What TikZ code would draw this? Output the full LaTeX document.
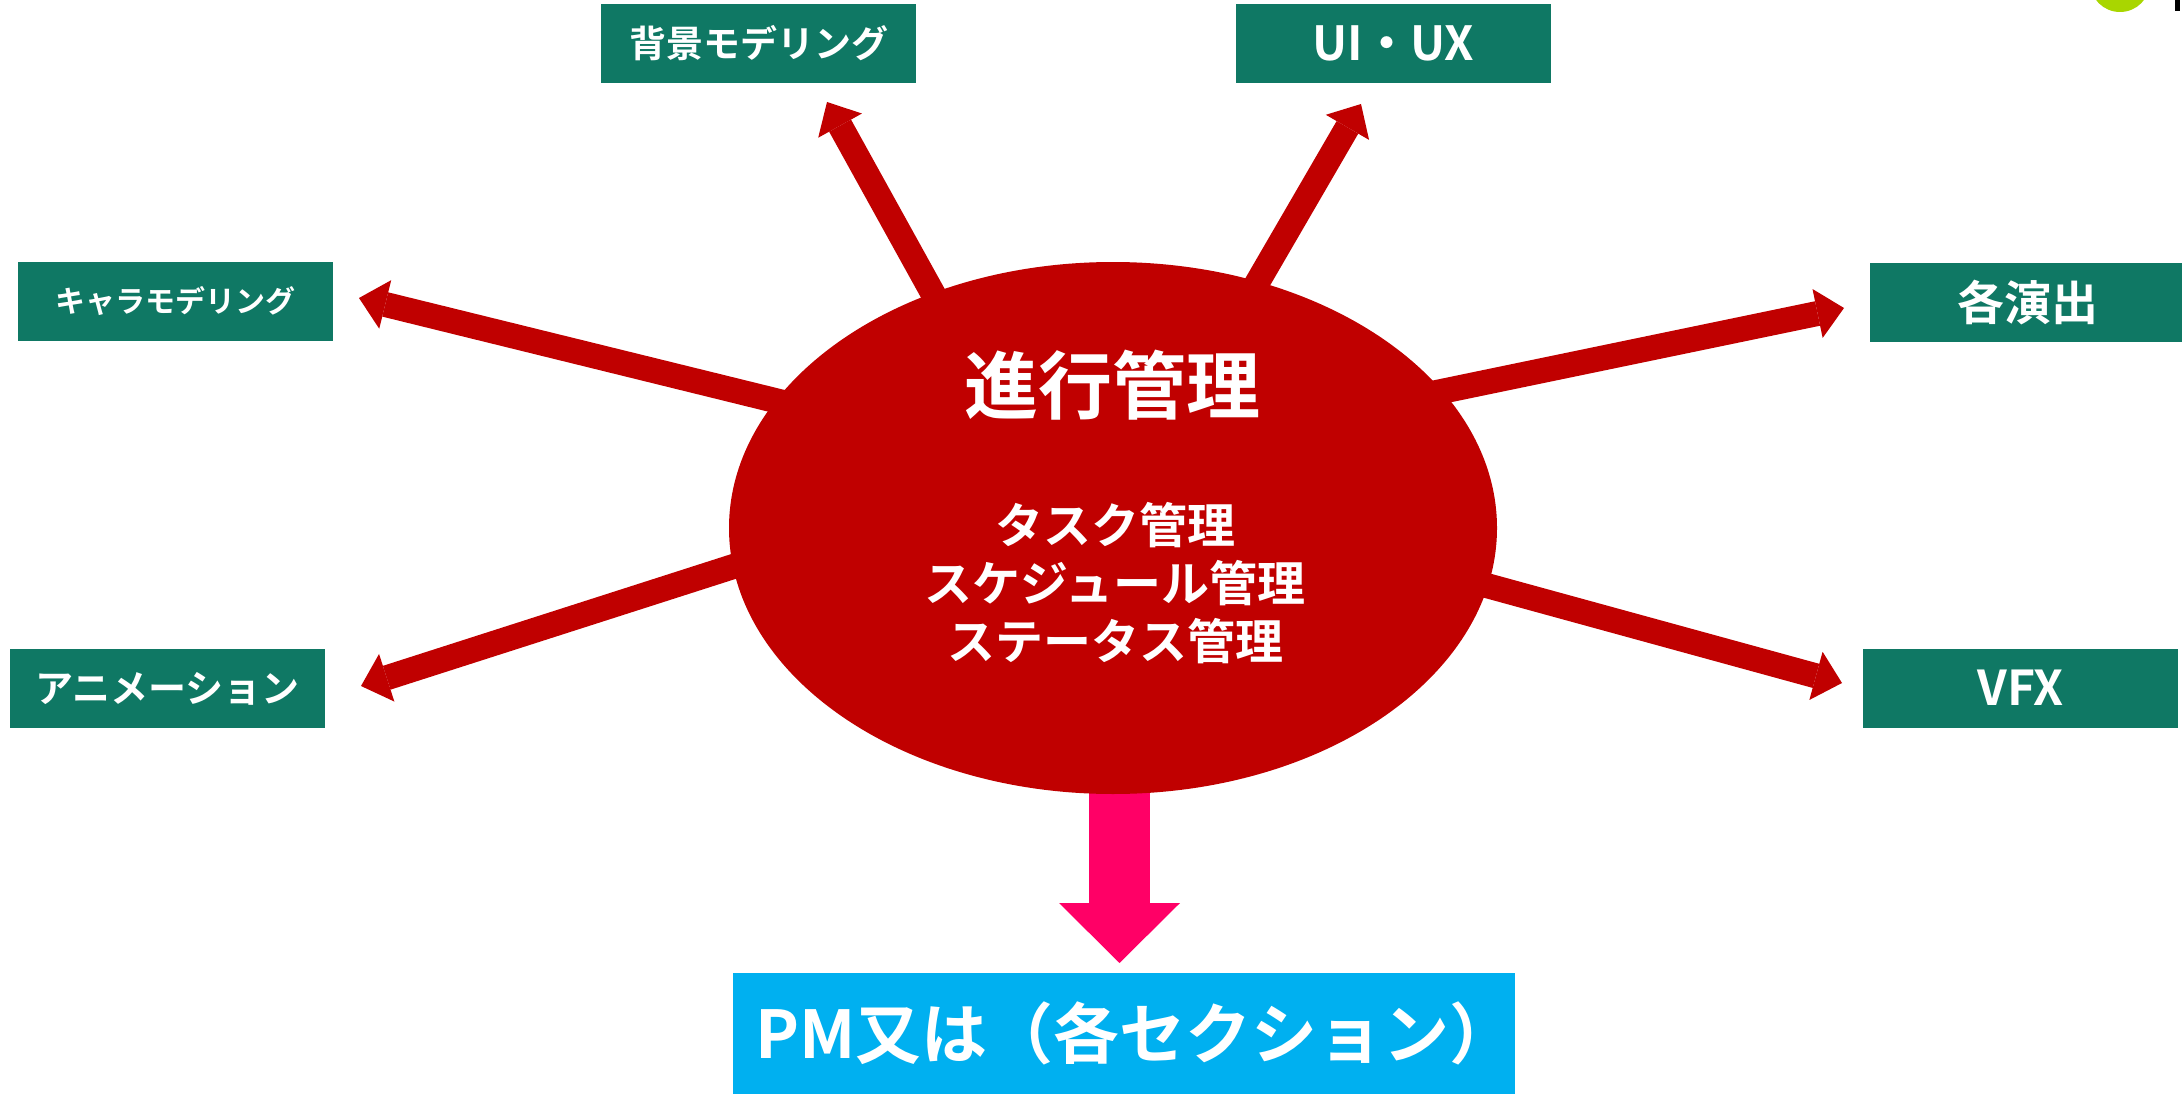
\documentclass[tikz,border=0pt]{standalone}
\usepackage{fontspec}
\setmainfont{Noto Sans CJK JP}[BoldFont={Noto Sans CJK JP Bold}]
\usetikzlibrary{arrows.meta,shapes.geometric}
\definecolor{boxgreen}{HTML}{0F7864}
\definecolor{ellred}{HTML}{C00000}
\definecolor{pmblue}{HTML}{00B0F0}
\definecolor{pinkarrow}{HTML}{FF0066}
\definecolor{limegreen}{HTML}{A9D600}
\newcommand\fsz[1]{\fontsize{#1}{#1}\selectfont\bfseries}
\begin{document}
\begin{tikzpicture}[x=1pt,y=-1pt,
  secbox/.style={fill=boxgreen, text=white, inner sep=0pt, minimum width=315pt, minimum height=79pt},
  redarrow/.style={draw=ellred, line width=25pt, -{Triangle[width=50pt,length=27pt,line width=0pt]}},
  pkarrow/.style={draw=pinkarrow, line width=61pt, -{Triangle[width=121pt,length=60pt,line width=0pt]}},
  whitetext/.style={text=white, inner sep=0pt}
]
\useasboundingbox (0,0) rectangle (2182,1094);
\fill[white] (0,0) rectangle (2182,1094);
% decorations at top right corner
\fill[limegreen] (2120,-18) circle[radius=30pt];
\fill[black] (2175,0) rectangle (2180,11);

% boxes
\node[secbox, font=\fsz{37}] (bg) at (758.5,43.5) {背景モデリング};
\node[secbox, font=\fsz{47}] (ui) at (1393.5,43.5) {UI・UX};
\node[secbox, font=\fsz{30}] (chara) at (175.5,301.5) {キャラモデリング};
\node[secbox, font=\fsz{47}] (ens) at (2027.5,302.5) {各演出};
\node[secbox, font=\fsz{38}] (anime) at (167.5,688.5) {アニメーション};
\node[secbox, font=\fsz{48}] (vfx) at (2020.5,688) {VFX};
\node[fill=pmblue, text=white, font=\fsz{66}, minimum height=121pt, inner xsep=22pt, inner ysep=0pt, text width=738pt, align=left] (pm) at (1124,1033.5) {PM又は（各セクション）};

% arrow end points
\coordinate (sA) at (834,415);   \coordinate (tA) at (359,298);
\coordinate (sB) at (962,346);   \coordinate (tB) at (827,102);
\coordinate (sC) at (1228,333);  \coordinate (tC) at (1361,104);
\coordinate (sD) at (1381,404);  \coordinate (tD) at (1844,308);
\coordinate (sE) at (791,548);   \coordinate (tE) at (361,686);
\coordinate (sF) at (1430,570);  \coordinate (tF) at (1842,683);
\coordinate (sP) at (1119.5,700); \coordinate (tP) at (1119.5,963);

\draw[redarrow] (sA) -- (tA);
\draw[redarrow] (sB) -- (tB);
\draw[redarrow] (sC) -- (tC);
\draw[redarrow] (sD) -- (tD);
\draw[redarrow] (sE) -- (tE);
\draw[redarrow] (sF) -- (tF);
\draw[pkarrow] (sP) -- (tP);

% central ellipse
\node[ellipse, fill=ellred, minimum width=768pt, minimum height=532pt, inner sep=0pt] (core) at (1113,528) {};
\node[whitetext, font=\fsz{74}] (title) at (1112,385) {進行管理};
\node[whitetext, font={\fontsize{48}{58}\selectfont\bfseries}, align=center] (tasks) at (1115,583) {タスク管理\\スケジュール管理\\ステータス管理};
\end{tikzpicture}
\end{document}
